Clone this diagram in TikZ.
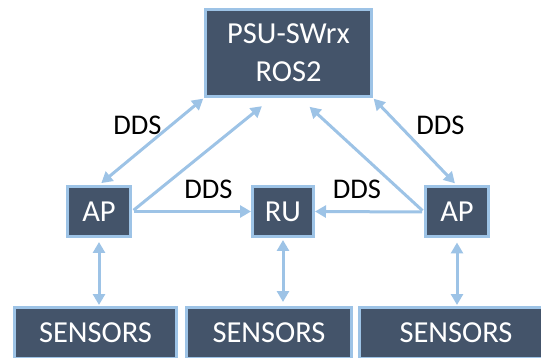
\documentclass[tikz,border=0pt]{standalone}
\usepackage{fontspec}
\setmainfont{Carlito}
\usetikzlibrary{arrows.meta,calc}
\definecolor{boxfill}{HTML}{44546A}
\definecolor{boxline}{HTML}{9DC3E6}
\tikzset{
    box/.style={rectangle, fill=boxfill, draw=boxline, line width=3pt,
    	text=white, align=center, inner sep=0pt,
    	font=\fontsize{30.5}{38}\selectfont},
    link/.style={draw=boxline, line width=3pt,
    	{Triangle[length=11pt,width=12pt]}-{Triangle[length=11pt,width=12pt]}},
    tolink/.style={draw=boxline, line width=3pt, -{Triangle[length=11pt,width=12pt]}},
    lbl/.style={font=\fontsize{28.5}{30}\selectfont, text=black}
}

\begin{document}
\begin{tikzpicture}[x=1pt, y=-1pt]
  \useasboundingbox (0,0) rectangle (541,358);
  \clip (0,0) rectangle (541,358);

  \node (psu) [box, minimum width=166pt, minimum height=87pt] at (288.5, 53) {PSU-SWrx\\ROS2};
  \node (apl) [box, minimum width=63pt, minimum height=50pt] at (99, 211.5) {AP};
  \node (ru) [box, minimum width=61pt, minimum height=50pt] at (283, 211.5) {RU};
  \node (apr) [box, minimum width=63pt, minimum height=50pt] at (457, 212) {AP};

  \node (s1) [box, minimum width=162pt, minimum height=51pt] at (95.5, 333) {SENSORS};
  \node (s2) [box, minimum width=165pt, minimum height=51pt] at (269, 333) {SENSORS};
  \node (s3) [box, minimum width=193pt, minimum height=51pt] at (456, 333) {SENSORS};

  \node (d1) [lbl] at (137.5, 125) {DDS};
  \node (d2) [lbl] at (208.5, 189.5) {DDS};
  \node (d3) [lbl] at (357, 189.5) {DDS};
  \node (d4) [lbl] at (440.5, 125) {DDS};

  % PSU and the two APs
  \draw [link, shorten <=1pt, shorten >=3pt] (psu.south west) -- (apl.north);
  \draw [link, shorten <=1pt, shorten >=3pt] (psu.south east) -- (apr.north);

  % AP to PSU and to RU
  \draw [tolink, shorten <=2pt, shorten >=13pt] (apl.east) -- ($(psu.south)+(-16.5,0)$);
  \draw [tolink, shorten <=2pt] (apl.east) -- (ru.west);
  \draw [tolink, shorten <=2pt, shorten >=13pt] (apr.west) -- ($(psu.south)+(11.5,0)$);
  \draw [tolink, shorten <=2pt] (apr.west) -- (ru.east);

  % sensors
  \draw [link, shorten <=4pt, shorten >=1pt] (apl.south) -- (apl.south |- s1.north);
  \draw [link, shorten <=2pt, shorten >=4pt] (ru.south) -- (ru.south |- s2.north);
  \draw [link, shorten <=4pt, shorten >=1pt] (apr.south) -- (apr.south |- s3.north);
\end{tikzpicture}
\end{document}
